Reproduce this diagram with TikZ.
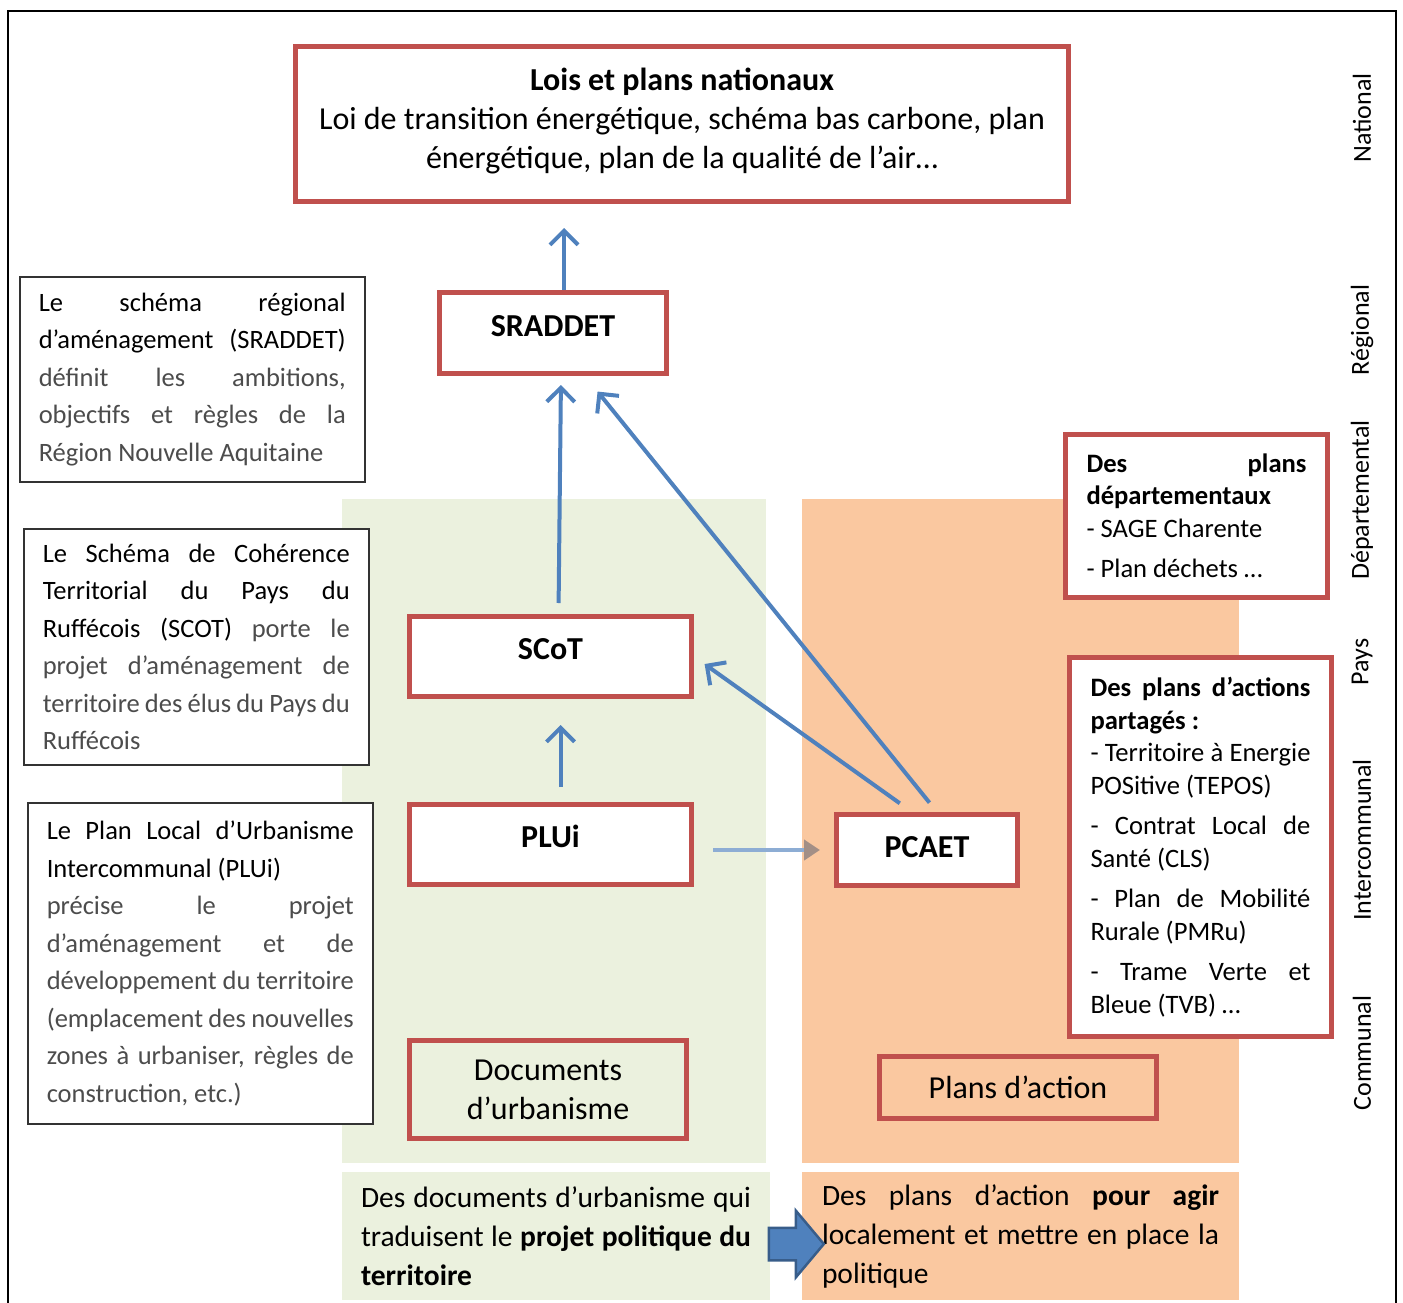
\documentclass[tikz,border=0pt]{standalone}
\usepackage{fontspec}
\setmainfont{Carlito}
\usepackage{xcolor}
\usetikzlibrary{shapes,arrows.meta,positioning}
\definecolor{boxred}{HTML}{C0504D}
\definecolor{linkblue}{HTML}{4F81BD}
\definecolor{darkblue}{HTML}{385D8A}
\definecolor{zonegreen}{HTML}{EBF1DE}
\definecolor{zoneorange}{HTML}{FAC8A0}
\definecolor{tipgray}{HTML}{A38F86}
\newcommand{\bigtxt}{\fontsize{32}{39}\selectfont\hyphenpenalty=10000\parindent=0pt}
\newcommand{\flowtxt}{\fontsize{29.5}{39}\selectfont\hyphenpenalty=10000\parindent=0pt}
\newcommand{\notetxt}{\fontsize{26.5}{37.5}\selectfont\hyphenpenalty=10000\parindent=0pt}
\newcommand{\listtxt}{\fontsize{26.6}{32.5}\selectfont\hyphenpenalty=10000\parindent=0pt\parskip=8pt}

\begin{document}
\begin{tikzpicture}
  [
    x=1pt, y=-1pt,
    Frame/.style={draw=boxred, line width=5pt, inner sep=0pt},
    RedBox/.style={Frame, fill=white, font=\bigtxt\bfseries, text height=22pt, text depth=16pt},
    Zone/.style={inner sep=0pt},
    Note/.style={draw=black!80, line width=1.5pt, fill=white, anchor=north west, text width=307pt, align=justify, inner xsep=19pt, inner ysep=0pt, font=\notetxt},
    List/.style={Frame, fill=white, text width=220pt, align=justify, inner xsep=21pt, font=\listtxt},
    Level/.style={rotate=90, font=\fontsize{26}{30}\selectfont},
    Link/.style={draw=linkblue, line width=4pt, -{Straight Barb[length=14pt,width=28pt]}},
    Fade/.style={draw=linkblue!65!white, line width=4pt, -{Triangle[length=16pt,width=20pt,color=tipgray]}}
  ]
  \useasboundingbox (0,0) rectangle (1403,1303);
  % Frame
  \draw[line width=2pt] (8,1320) -- (8,11) -- (1396,11) -- (1396,1320);

  % Zones
  \node[Zone, fill=zonegreen, minimum width=424pt, minimum height=664pt] (urbzone) at (554,831) {};
  \node[Zone, fill=zoneorange, minimum width=437pt, minimum height=664pt] (actzone) at (1020.5,831) {};
  \node[Zone, fill=zonegreen, minimum width=428pt, minimum height=128pt, text width=390pt, inner xsep=19pt, align=justify, font=\flowtxt] (urbtext) at (556,1236)
    {Des documents d’urbanisme qui\linebreak traduisent le \textbf{projet politique du\linebreak territoire}};
  \node[Zone, fill=zoneorange, minimum width=437pt, minimum height=128pt, text width=397pt, inner xsep=20pt, align=justify, font=\flowtxt] (acttext) at (1020.5,1236)
    {Des plans d’action \textbf{pour agir}\linebreak localement et mettre en place la\linebreak politique};

  % Levels
  \node[Level] (national) at (1362,118) {National};
  \node[Level] (regional) at (1362,330) {Régional};
  \node[Level] (dept) at (1362,500) {Départemental};
  \node[Level] (pays) at (1362,662) {Pays};
  \node[Level] (interco) at (1362,840) {Intercommunal};
  \node[Level] (communal) at (1362,1053) {Communal};

  % Nodes
  \node[Frame, fill=white, minimum width=773pt, minimum height=155pt, align=center, font=\bigtxt] (lois) at (682,124)
    {\textbf{Lois et plans nationaux}\\Loi de transition énergétique, schéma bas carbone, plan\\énergétique, plan de la qualité de l’air…\\[-28pt]};
  \node[RedBox, minimum width=227pt, minimum height=81pt] (sraddet) at (553,333) {SRADDET};
  \node[RedBox, minimum width=282pt, minimum height=80pt] (scot) at (550.5,656.5) {SCoT};
  \node[RedBox, minimum width=282pt, minimum height=80pt] (plui) at (550.5,844.5) {PLUi};
  \node[RedBox, minimum width=181pt, minimum height=71pt, text depth=8pt] (pcaet) at (927,850) {PCAET};
  \node[Frame, minimum width=277pt, minimum height=98pt, align=center, font=\bigtxt] (docs) at (548,1089.5) {Documents\\d’urbanisme};
  \node[Frame, minimum width=277pt, minimum height=62pt, font=\bigtxt] (plans) at (1018,1087.5) {Plans d’action};

  \node[List, minimum height=163pt] (depts) at (1196.5,516)
    {\textbf{Des plans\linebreak départementaux}\newline - SAGE Charente\par - Plan déchets …};
  \node[List, minimum height=379pt] (partages) at (1200.5,847)
    {\textbf{Des plans d’actions\linebreak partagés :}\newline - Territoire à Energie\linebreak POSitive (TEPOS)\par
     - Contrat Local de\linebreak Santé (CLS)\par
     - Plan de Mobilité\linebreak Rurale (PMRu)\par
     - Trame Verte et\linebreak Bleue (TVB) …};

  \node[Note, minimum height=205pt] (note1) at (19,276)
    {Le schéma régional\linebreak d’aménagement (SRADDET) \color{black!70}définit les ambitions,\linebreak objectifs et règles de la\linebreak Région Nouvelle Aquitaine};
  \node[Note, minimum height=236pt] (note2) at (23,528)
    {Le Schéma de Cohérence\linebreak Territorial du Pays du\linebreak Ruffécois (SCOT) \color{black!70}porte le\linebreak projet d’aménagement de\linebreak territoire des élus du Pays du\linebreak Ruffécois};
  \node[Note, minimum height=321pt] (note3) at (27,802)
    {Le Plan Local d’Urbanisme\linebreak Intercommunal (PLUi)\newline \color{black!70}précise le projet\linebreak d’aménagement et de\linebreak développement du territoire\linebreak (emplacement des nouvelles\linebreak zones à urbaniser, règles de\linebreak construction, etc.)};

  \node[single arrow, fill=linkblue, draw=darkblue, line width=2.5pt, minimum height=55pt, minimum width=64pt,
        single arrow head extend=17pt, single arrow tip angle=100, inner xsep=0pt, inner ysep=15pt] (flow) at (789.5,1244) {};

  % Lines
  \coordinate (natbase) at (564,228);
  \draw[Link] (sraddet.north -| natbase) -- (natbase);
  \draw[Link, shorten <=11pt, shorten >=9pt] ([xshift=8pt]scot.north) -- ([xshift=8pt]sraddet.south);
  \draw[Link, shorten <=12pt, shorten >=20pt] ([xshift=10pt]pcaet.north) -- ([xshift=32pt]sraddet.south);
  \draw[Link, shorten <=15pt, shorten >=13pt] ([xshift=-15pt]pcaet.north) -- (scot.east);
  \draw[Link, shorten <=15pt, shorten >=26pt] ([xshift=10pt]plui.north) -- ([xshift=10pt]scot.south);
  \draw[Fade, shorten <=19pt, shorten >=14pt] (plui.east |- pcaet.west) -- (pcaet.west);

\end{tikzpicture}
\end{document}
